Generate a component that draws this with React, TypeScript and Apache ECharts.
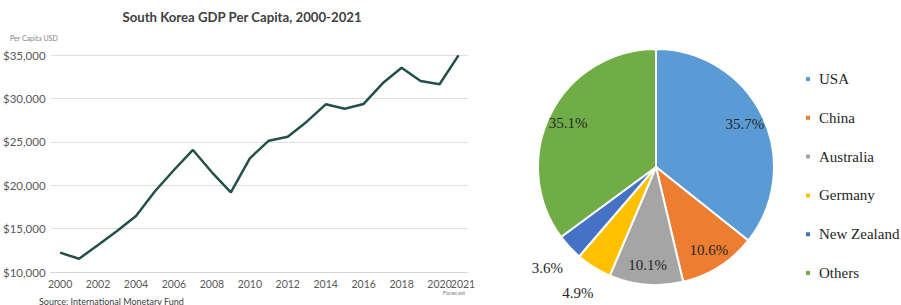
import React, { useEffect, useRef } from "react";
import * as echarts from "echarts";

const years = ["2000","2001","2002","2003","2004","2005","2006","2007","2008","2009","2010","2011","2012","2013","2014","2015","2016","2017","2018","2019","2020","2021"];
const gdpPerCapita = [12230, 11530, 13110, 14720, 16450, 19300, 21750, 24060, 21490, 19180, 23100, 25130, 25590, 27320, 29320, 28810, 29360, 31740, 33540, 32010, 31630, 34950];
const yMin = 10000;
const yMax = 35000;
const yInterval = 5000;

const shareNames = ["USA", "China", "Australia", "Germany", "New Zealand", "Others"];
const shareValues = [35.7, 10.6, 10.1, 4.9, 3.6, 35.1];
const shareColors = ["#5B9BD5", "#ED7D31", "#A5A5A5", "#FFC000", "#4472C4", "#70AD47"];
const outsideLabelNames = ["Germany", "New Zealand"];

const sans = "Lato, 'Open Sans', sans-serif";
const serif = "'Liberation Serif', 'DejaVu Serif', serif";

export default function App() {
  const ref = useRef<HTMLDivElement>(null);
  useEffect(() => {
    document.body.style.margin = "0";
    if (!ref.current) return;
    const chart = echarts.init(ref.current, null, { renderer: "svg" });
    const pieCenter = [656, 167];
    const R = 118;
    const last = years.length - 1;
    const fmtPct = (p: any) => Number(p.value).toFixed(1) + "%";
    const xLabelBase = { color: "#595959", fontFamily: sans, fontSize: 10.5, margin: 6 };
    chart.setOption({
      animation: false,
      backgroundColor: "#ffffff",
      grid: { left: 50, right: 433, top: 55, bottom: 33 },
      xAxis: [
        {
          type: "category",
          data: years,
          boundaryGap: true,
          position: "bottom",
          axisLine: { show: true, lineStyle: { color: "#d9d9d9" } },
          axisTick: { show: false },
          axisLabel: { ...xLabelBase, interval: (i: number) => i % 2 === 0 && i !== last },
        },
        {
          type: "category",
          data: years,
          boundaryGap: true,
          position: "bottom",
          offset: 0,
          axisLine: { show: false },
          axisTick: { show: false },
          splitLine: { show: false },
          axisLabel: {
            ...xLabelBase,
            interval: (i: number) => i === last,
            showMaxLabel: true,
            formatter: (v: string) => "{f|" + v + "}",
            rich: { f: { padding: [0, 0, 0, 9], color: "#595959", fontFamily: sans, fontSize: 10.5 } },
          },
        },
      ],
      yAxis: {
        type: "value",
        min: yMin,
        max: yMax,
        interval: yInterval,
        axisLine: { show: false },
        axisTick: { show: false },
        splitLine: { lineStyle: { color: "#e0e0e0", width: 1 } },
        axisLabel: {
          color: "#595959",
          fontFamily: sans,
          fontSize: 11.5,
          margin: 5,
          formatter: (v: number) => "$" + v.toLocaleString("en-US"),
        },
      },
      legend: {
        orient: "vertical",
        left: 799,
        top: 66,
        data: shareNames,
        icon: "rect",
        itemWidth: 6,
        itemHeight: 6,
        itemGap: 22.8,
        textStyle: { fontFamily: serif, fontSize: 15, color: "#262626", lineHeight: 16, padding: [0, 0, 0, 3] },
      },
      graphic: [
        { type: "text", x: 242, y: 17, style: { text: "South Korea GDP Per Capita, 2000-2021", fontFamily: sans, fontWeight: "bold", fontSize: 13.2, fill: "#404040", textAlign: "center", textVerticalAlign: "middle" } },
        { type: "text", x: 10, y: 38, style: { text: "Per Capita USD", fontFamily: sans, fontSize: 7, fill: "#7f7f7f", textAlign: "left", textVerticalAlign: "middle" } },
        { type: "text", x: 454, y: 292, style: { text: "Forecast", fontFamily: sans, fontSize: 6, fill: "#7f7f7f", textAlign: "center", textVerticalAlign: "middle" } },
        { type: "text", x: 39, y: 301, style: { text: "Source: International Monetary Fund", fontFamily: sans, fontSize: 9, fill: "#404040", textAlign: "left", textVerticalAlign: "middle" } },
      ],
      series: [
        {
          type: "line",
          name: "GDP per capita",
          xAxisIndex: 0,
          data: gdpPerCapita,
          symbol: "none",
          lineStyle: { color: "#23504C", width: 2.5 },
        },
        {
          type: "pie",
          name: "Share",
          center: pieCenter,
          radius: R,
          startAngle: 90,
          clockwise: true,
          label: { show: false },
          labelLine: { show: false },
          itemStyle: { borderColor: "#ffffff", borderWidth: 2 },
          data: shareNames.map((n, i) => ({ name: n, value: shareValues[i], itemStyle: { color: shareColors[i] } })),
        },
        {
          type: "pie",
          name: "InsideLabels",
          silent: true,
          center: pieCenter,
          radius: [R * 0.62, R],
          startAngle: 90,
          clockwise: true,
          avoidLabelOverlap: false,
          itemStyle: { color: "rgba(0,0,0,0)", borderWidth: 0 },
          labelLine: { show: false },
          label: { show: true, position: "inside", formatter: fmtPct, fontFamily: serif, fontSize: 15, color: "#262626" },
          data: shareNames.map((n, i) => ({ name: n, value: shareValues[i], label: { show: !outsideLabelNames.includes(n) } })),
        },
        {
          type: "pie",
          name: "OutsideLabels",
          silent: true,
          center: pieCenter,
          radius: [R, R * 1.46],
          startAngle: 90,
          clockwise: true,
          avoidLabelOverlap: false,
          itemStyle: { color: "rgba(0,0,0,0)", borderWidth: 0 },
          labelLine: { show: false },
          label: { show: true, position: "inside", formatter: fmtPct, fontFamily: serif, fontSize: 15, color: "#262626" },
          data: shareNames.map((n, i) => ({ name: n, value: shareValues[i], label: { show: outsideLabelNames.includes(n) } })),
        },
      ],
    });
    return () => chart.dispose();
  }, []);
  return <div ref={ref} style={{ width: 901, height: 305 }} />;
}
